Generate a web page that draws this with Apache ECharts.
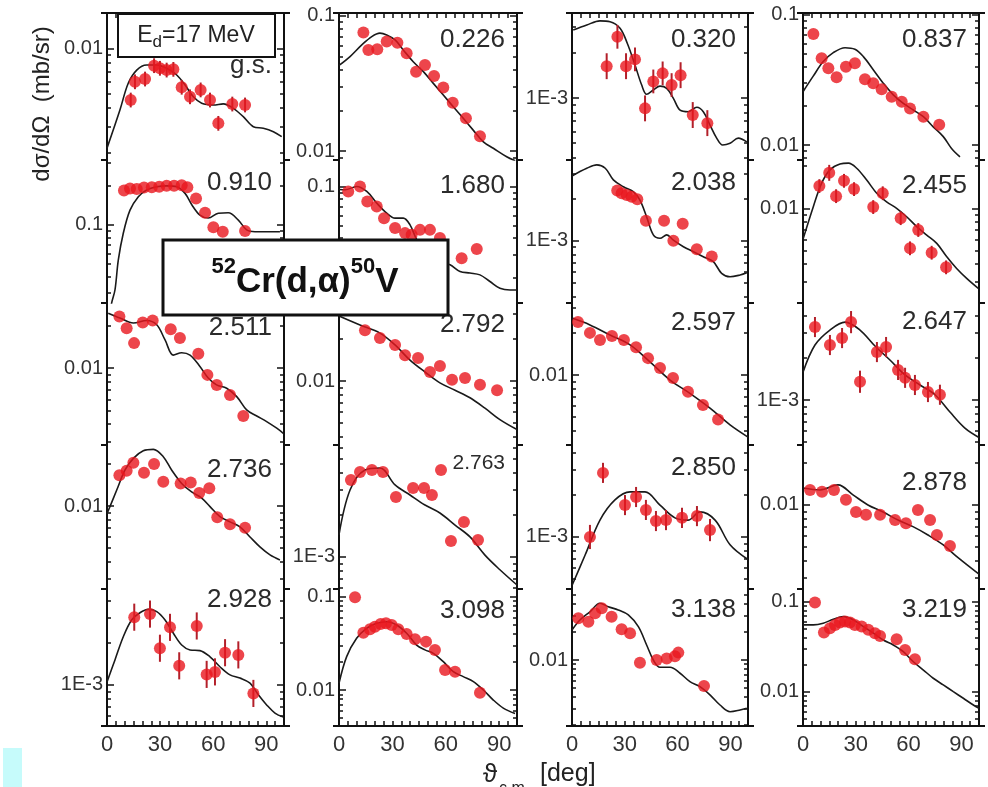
<!DOCTYPE html>
<html><head><meta charset="utf-8">
<script src="https://cdn.jsdelivr.net/npm/echarts@6/dist/echarts.min.js"></script>
<style>html,body{margin:0;padding:0;background:#fff}#c{width:988px;height:787px}</style>
</head><body><div id="c"></div>
<script>
// ---- excitation energies (panel labels) ----
const states = ['g.s.','0.226','0.320','0.837','0.910','1.680','2.038','2.455','2.511','2.792','2.597','2.647','2.736','2.763','2.850','2.878','2.928','3.098','3.138','3.219'];
const xTickLabels = [0, 30, 60, 90];

// ---- data: [angle deg, dsigma/dOmega mb/sr] ; err = relative error ; th = theory curve ----
const exp_gs = [[13.4,0.00452],[15.8,0.00598],[21.5,0.00624],[26.6,0.00766],[29.9,0.00736],[33.7,0.00716],[37.5,0.00724],[42.2,0.0055],[46.9,0.00475],[52.9,0.00528],[58.2,0.00452],[62.9,0.00316],[70.8,0.00425],[78,0.00419]];
const err_gs = [0.12,0.12,0.12,0.12,0.12,0.12,0.12,0.12,0.12,0.12,0.12,0.12,0.12,0.12];
const th_gs = [[0,0.00216],[7.3,0.00388],[12,0.00585],[16.8,0.00716],[22.4,0.00774],[28.1,0.00774],[33.7,0.00736],[39.4,0.00664],[44.1,0.00569],[48.8,0.00475],[53.5,0.0043],[60.1,0.00419],[65.7,0.00426],[71.4,0.00398],[77,0.0035],[82.7,0.003],[88.3,0.00293],[94,0.00278],[98.7,0.00258]];

const exp_0226 = [[13.7,0.0752],[16.5,0.056],[21.5,0.0566],[26.8,0.0646],[32.8,0.0633],[38,0.053],[43.3,0.0387],[48.3,0.0434],[53.4,0.036],[58.6,0.0296],[63.9,0.0228],[71.3,0.0175],[79.2,0.0129]];
const th_0226 = [[0,0.043],[6.2,0.05],[12.8,0.061],[18.4,0.0703],[23,0.0745],[26.8,0.0723],[31.5,0.0664],[36.1,0.056],[41.7,0.0458],[47.4,0.0387],[53,0.0317],[58.6,0.026],[64.2,0.0213],[69.8,0.0175],[75.4,0.0143],[81.1,0.0117],[86.7,0.0105],[94.2,0.0091],[99,0.0085]];

const exp_0320 = [[19.7,0.00163],[25.8,0.00256],[30.7,0.00163],[35.8,0.00181],[41.5,0.000853],[46.2,0.00129],[51.5,0.00146],[56.6,0.00122],[61.7,0.00142],[68.6,0.00077],[76.9,0.00068]];
const err_0320 = [0.22,0.2,0.22,0.2,0.22,0.2,0.2,0.2,0.22,0.22,0.22];
const th_0320 = [[0.7,0.00284],[8.4,0.00307],[15.9,0.00327],[21.6,0.00323],[27.3,0.00292],[31.4,0.00232],[35.8,0.00166],[39.6,0.00122],[42.4,0.00106],[46.2,0.00113],[50,0.0012],[53.8,0.00116],[57.6,0.000995],[61.4,0.00083],[66.1,0.00081],[70.9,0.000867],[74.6,0.00081],[78.4,0.00066],[82.2,0.00054],[85.6,0.000486],[89.8,0.000499],[94.5,0.00054],[99.3,0.00051]];

const exp_0837 = [[5.9,0.0714],[10.6,0.0465],[14.4,0.0389],[19.1,0.0332],[24.4,0.04],[29.5,0.0425],[35.2,0.032],[39.9,0.0298],[44.7,0.0268],[50.4,0.0235],[56.1,0.0215],[60.8,0.0191],[68.4,0.0165],[77.4,0.0143]];
const th_0837 = [[0,0.0257],[5.9,0.034],[11.5,0.0438],[17.2,0.0513],[23.9,0.056],[29.5,0.0544],[34.3,0.0478],[40,0.0378],[45.6,0.0299],[51.3,0.0243],[57,0.0209],[62.7,0.0186],[68.4,0.0165],[74,0.0138],[79.7,0.0116],[84.4,0.0094],[89.2,0.0081]];

const exp_0910 = [[9.6,0.184],[13,0.191],[16.8,0.189],[20.9,0.194],[25.3,0.195],[29.5,0.197],[33.7,0.2],[37.9,0.2],[42.2,0.202],[45.4,0.195],[50.3,0.16],[55.4,0.124],[60.1,0.096],[65.4,0.0887],[78,0.0899]];
const th_0910 = [[0,0.015],[2.6,0.025],[4.5,0.0316],[6.4,0.0538],[9.2,0.0863],[13,0.13],[17.7,0.165],[22.4,0.186],[28.1,0.197],[33.7,0.2],[39.4,0.197],[44.1,0.175],[47.9,0.143],[52.5,0.119],[57.2,0.113],[62.9,0.123],[68.5,0.124],[74.2,0.109],[78.9,0.0916],[83.6,0.0887],[97.7,0.0887]];

const exp_1680 = [[5.2,0.0916],[11.8,0.1],[15.9,0.0767],[21.2,0.0702],[25.3,0.0571],[31.5,0.0479],[37.1,0.0438],[40.8,0.0425],[45.5,0.0464],[51.1,0.0464],[56.7,0.0401],[68.9,0.0281],[77.4,0.033]];
const th_1680 = [[0,0.095],[3.4,0.0944],[9.9,0.1],[15.6,0.0916],[21.2,0.0745],[26.8,0.0624],[31.5,0.0571],[36.1,0.0571],[39.9,0.0507],[43.7,0.0389],[48.3,0.032],[56.7,0.0263],[62.4,0.025],[68,0.0222],[73.6,0.0216],[79.2,0.0209],[84.8,0.0186],[90.4,0.0165],[96.1,0.016],[100,0.016]];

const exp_2038 = [[25.7,0.00228],[28.2,0.00218],[31.1,0.00212],[33.9,0.00206],[37.1,0.00198],[42,0.00139],[52.3,0.00139],[57.6,0.001],[62.9,0.00132],[70.9,0.00087],[79.4,0.00077]];
const th_2038 = [[0,0.0029],[8.4,0.00329],[14.1,0.00348],[18.9,0.00329],[23.5,0.00272],[29.2,0.00243],[34.8,0.00224],[38.6,0.00195],[42.4,0.00148],[46.2,0.0011],[50,0.00104],[53.8,0.0011],[57.6,0.00101],[63.3,0.000906],[69,0.000834],[74.6,0.000769],[80.3,0.000708],[85,0.000585],[89.8,0.000553],[95.5,0.000569],[99.3,0.00059]];

const exp_2455 = [[9.3,0.0144],[14.9,0.0179],[18.8,0.0122],[23.3,0.0157],[29,0.0137],[39.9,0.0102],[45.3,0.0128],[55.5,0.0085],[65.5,0.007],[60.8,0.00518],[73.1,0.00482],[81.3,0.00379]];
const err_2455 = [0.12,0.14,0.12,0.12,0.12,0.12,0.12,0.12,0.12,0.12,0.12,0.12];
const th_2455 = [[0,0.006],[5.9,0.0103],[10.6,0.0151],[15.3,0.0188],[21,0.0207],[25.8,0.021],[30.5,0.0193],[36.2,0.0159],[41.9,0.0128],[47.5,0.0111],[53.2,0.01],[58.9,0.0087],[64.6,0.0074],[70.3,0.00644],[76,0.00562],[81.7,0.00451],[87.3,0.00372],[93,0.00316],[99.6,0.00268]];

const exp_2511 = [[7,0.0234],[11.1,0.0193],[15.3,0.0151],[20.2,0.0212],[25.8,0.0219],[36,0.019],[41.2,0.0164],[51.6,0.0127],[56.7,0.00896],[62,0.0076],[69.5,0.00644],[77,0.00456]];
const th_2511 = [[0.7,0.0247],[7.3,0.0228],[14.9,0.021],[22.4,0.0219],[28.1,0.0204],[32.8,0.0159],[37.5,0.0124],[42.2,0.0129],[46.9,0.0124],[52.5,0.0103],[57.2,0.0085],[61.9,0.0076],[67.6,0.0072],[73.3,0.00627],[78.9,0.00504],[84.6,0.00456],[90.2,0.00416],[95.9,0.00373],[99.6,0.00343]];

const exp_2792 = [[14.6,0.0231],[23,0.0203],[31.5,0.0181],[37.1,0.0153],[44.4,0.0146],[51.1,0.0116],[56.7,0.0128],[63.5,0.0102],[70.8,0.0105],[79.2,0.0094],[88.8,0.0086]];
const th_2792 = [[0,0.0291],[11.8,0.0251],[23,0.022],[31.5,0.0181],[39.9,0.0141],[48.3,0.0116],[56.7,0.0097],[65.2,0.0086],[73.6,0.0076],[82,0.0064],[90.4,0.0053],[100,0.0045]];

const exp_2597 = [[3.4,0.0239],[10.2,0.02],[15.9,0.0178],[22.7,0.019],[29.5,0.0178],[36.4,0.0158],[43.2,0.0132],[50,0.0112],[57.4,0.0095],[65.9,0.0076],[74.4,0.0061],[83,0.0048]];
const th_2597 = [[0,0.0255],[10.2,0.0228],[21.6,0.0193],[33,0.0164],[44.3,0.0124],[55.7,0.0092],[67,0.0074],[78.4,0.0058],[89.8,0.0044],[100,0.0036]];

const exp_2647 = [[6.8,0.00332],[15.3,0.00247],[22.2,0.00277],[27.3,0.0036],[32.4,0.00135],[42,0.0022],[47.2,0.00239],[54,0.00164],[58,0.00144],[63.6,0.00128],[71,0.00114],[77.8,0.00109]];
const err_2647 = [0.18,0.18,0.18,0.2,0.2,0.18,0.18,0.18,0.18,0.18,0.18,0.18];
const th_2647 = [[0,0.00158],[6.8,0.00247],[15.3,0.00316],[23.9,0.0036],[32.4,0.00316],[40.9,0.00243],[49.4,0.00193],[58,0.00151],[66.5,0.00128],[75,0.00109],[83.5,0.00082],[92,0.00063],[100,0.00054]];

const exp_2736 = [[7,0.0166],[11.1,0.0179],[14.9,0.0204],[20.9,0.0173],[26.6,0.02],[31.8,0.0149],[41.6,0.0145],[47.3,0.0147],[52.1,0.0124],[57.8,0.0134],[62.3,0.0083],[69.5,0.0074],[78,0.007]];
const th_2736 = [[0,0.0088],[5.5,0.013],[10.2,0.0181],[14.9,0.0219],[20.5,0.0248],[26.2,0.0254],[31.8,0.0225],[36.5,0.0181],[42.2,0.0145],[47.8,0.0126],[53.5,0.0114],[58.2,0.0099],[63.8,0.0084],[69.5,0.0077],[75.1,0.0071],[80.8,0.006],[86.4,0.0051],[92.1,0.00447],[97.7,0.00411]];

const exp_2763 = [[6.7,0.00355],[11.8,0.00405],[18.5,0.00418],[24.7,0.00405],[32,0.00268],[41.6,0.00311],[47.8,0.00311],[52.2,0.00277],[57.3,0.00418],[62.9,0.0013],[70.2,0.00178],[78.1,0.00132]];
const th_2763 = [[0,0.00144],[6.2,0.00301],[14.6,0.00418],[23,0.00432],[31.5,0.00327],[39.9,0.00277],[48.3,0.00235],[56.7,0.00206],[65.2,0.00169],[73.6,0.00139],[82,0.00103],[90.4,0.00081],[100,0.00063]];

const exp_2850 = [[10.2,0.001],[17.6,0.00287],[30.1,0.00169],[36.4,0.00193],[42,0.00156],[47.7,0.0013],[53.4,0.00132],[62.5,0.00137],[71,0.00141],[78.4,0.00112]];
const err_2850 = [0.22,0.18,0.18,0.18,0.18,0.18,0.18,0.18,0.18,0.2];
const th_2850 = [[0,0.00045],[7.4,0.00074],[15.9,0.00132],[24.4,0.00184],[33,0.0021],[41.5,0.0021],[50,0.00169],[58.5,0.00137],[65.9,0.00132],[72.7,0.00151],[81.3,0.00132],[89.8,0.00088],[100,0.00069]];

const exp_2878 = [[4,0.0128],[10.8,0.0124],[17.6,0.0128],[24.4,0.0109],[30.1,0.0089],[35.8,0.0085],[43.8,0.0085],[52.3,0.0078],[58.5,0.0074],[65.3,0.0092],[72.2,0.0078],[76.1,0.0061],[83.5,0.0051]];
const th_2878 = [[0,0.0132],[9.7,0.0128],[19.9,0.0139],[28.4,0.0118],[36.9,0.01],[45.5,0.0089],[54,0.0078],[62.5,0.007],[71,0.0061],[79.5,0.0052],[88.1,0.0042],[100,0.0032]];

const exp_2928 = [[15.4,0.00305],[24.3,0.00321],[29.9,0.00183],[35.6,0.00258],[40.8,0.00137],[50.7,0.00264],[56.3,0.00119],[61,0.00124],[66.7,0.0017],[74.2,0.00164],[82.7,0.00087]];
const err_2928 = [0.25,0.25,0.25,0.25,0.25,0.25,0.25,0.25,0.25,0.25,0.25];
const th_2928 = [[0,0.00105],[4.5,0.00151],[9.2,0.00221],[13.9,0.00291],[18.6,0.00328],[23.3,0.00347],[28.1,0.00334],[32.8,0.00291],[37.5,0.00234],[42.2,0.00193],[46.9,0.00178],[52.5,0.00176],[58.2,0.00159],[63.8,0.00135],[69.5,0.00118],[75.1,0.00112],[80.8,0.00103],[85.5,0.00085],[90.2,0.00072],[94.9,0.00063],[99.6,0.00059]];

const exp_3098 = [[9,0.0986],[13.7,0.0411],[17.4,0.0448],[20.2,0.0477],[23.4,0.0509],[26.4,0.0518],[29.6,0.0498],[33.3,0.0448],[38,0.0398],[42.7,0.0349],[48.9,0.033],[53.9,0.0269],[59.6,0.0164],[65.2,0.0157],[79.2,0.00936]];
const th_3098 = [[0,0.0118],[4.3,0.0228],[9.9,0.0358],[15.5,0.0458],[21.2,0.0519],[26.8,0.054],[32.4,0.0498],[38,0.0406],[43.6,0.0303],[48.3,0.0269],[53,0.0247],[58.6,0.0201],[64.2,0.0157],[69.8,0.0139],[75.5,0.0123],[81.1,0.01],[86.7,0.0078],[92.3,0.0064],[98.9,0.0056]];

const exp_3138 = [[3.6,0.0281],[9.3,0.0258],[13.1,0.0318],[16.9,0.036],[22.5,0.0292],[28.2,0.0214],[33,0.0194],[38.6,0.00935],[48.1,0.01],[53.8,0.0104],[58.5,0.011],[60.4,0.012],[75,0.00525]];
const th_3138 = [[0,0.021],[4.5,0.0269],[10.2,0.033],[15.9,0.0407],[20.6,0.0374],[26.3,0.0345],[32,0.0305],[37.7,0.0228],[42.4,0.0145],[46.2,0.01],[50,0.00835],[55.7,0.00835],[61.4,0.0072],[67,0.00585],[72.7,0.00516],[78.4,0.00421],[84.1,0.00328],[89.8,0.00278],[95.5,0.0029],[99.3,0.00303]];

const exp_3219 = [[6.8,0.0975],[11.9,0.0453],[15.3,0.0506],[18.2,0.0551],[21,0.0585],[23.9,0.06],[26.7,0.0585],[29.5,0.0551],[33.3,0.0528],[37.1,0.0486],[40.9,0.0446],[43.8,0.0416],[53.2,0.0382],[58,0.029],[63.6,0.0229]];
const th_3219 = [[0,0.0551],[5.9,0.0551],[11.5,0.0575],[17.2,0.0637],[22.9,0.0681],[28.6,0.0627],[34.3,0.0528],[40,0.0446],[45.6,0.0375],[51.3,0.033],[57,0.0278],[62.7,0.0215],[68.4,0.0174],[74,0.0141],[79.7,0.0119],[85.4,0.01],[91.1,0.00845],[96.8,0.00711],[100,0.00655]];

// ---- y-axis ranges and labelled decades per panel ----
const yRanges = [[0.0018,0.0172],[0.0086,0.105],[0.000386,0.00369],[0.00767,0.1035],
  [0.0251,0.316],[0.0127,0.16],[0.000359,0.00377],[0.00211,0.0221],
  [0.00283,0.0292],[0.00349,0.0361],[0.00316,0.0327],[0.000477,0.00493],
  [0.00255,0.0273],[0.00059,0.00631],[0.000425,0.00454],[0.00251,0.0268],
  [0.000509,0.00485],[0.00411,0.121],[0.00195,0.058],[0.00416,0.138]];
const yLabelValues = [[0.01],[0.1,0.01],[0.001],[0.1,0.01],[0.1],[0.1],[0.001],[0.01],[0.01],[0.01],[0.01],[0.001],[0.01],[0.001],[0.001],[0.01],[0.001],[0.1,0.01],[0.01],[0.1,0.01]];

const expSets = [exp_gs,exp_0226,exp_0320,exp_0837,exp_0910,exp_1680,exp_2038,exp_2455,exp_2511,exp_2792,exp_2597,exp_2647,exp_2736,exp_2763,exp_2850,exp_2878,exp_2928,exp_3098,exp_3138,exp_3219];
const errSets = [err_gs,null,err_0320,null,null,null,null,err_2455,null,null,null,err_2647,null,null,err_2850,null,err_2928,null,null,null];
const thSets = [th_gs,th_0226,th_0320,th_0837,th_0910,th_1680,th_2038,th_2455,th_2511,th_2792,th_2597,th_2647,th_2736,th_2763,th_2850,th_2878,th_2928,th_3098,th_3138,th_3219];

// ---- layout ----
const colLeft = [107,339,572,803], colWidth = [177,178,176,176];
const rowTop = [13,160,303,445,589], rowBottom = [160,303,445,589,726];
const stateLabelDy = [[53,27,27,27],[23,26,23,26],[25,22,20,19],[25,18,23,38],[11,22,21,21]];
const stateLabelSize = [[26,26,26,26],[26,26,26,26],[26,26,26,26],[26,21,26,26],[26,26,26,26]];
const FONT = 'Liberation Sans, Arial, sans-serif';
const INK = '#111';

function fmt(v){ const e = Math.round(Math.log10(v)); return e===-1?'0.1':e===-2?'0.01':e===-3?'1E-3':String(v); }

const grid=[], xAxis=[], yAxis=[], series=[], graphic=[];
expSets.forEach((exp,i)=>{
  const r=Math.floor(i/4), c=i%4;
  grid.push({left:colLeft[c], top:rowTop[r], width:colWidth[c], height:rowBottom[r]-rowTop[r]});
  const isTop=r===0, isBot=r===4;
  xAxis.push({gridIndex:i, type:'value', min:0, max:100, interval:5, position:isTop?'top':'bottom', show:isTop||isBot,
    axisLine:{show:true,onZero:false,lineStyle:{color:INK,width:2}},
    axisTick:{show:true,inside:true,length:5,lineStyle:{color:INK,width:1.5}},
    axisLabel:{show:isBot, customValues:xTickLabels, color:'#333', fontSize:22, margin:8, fontFamily:FONT},
    splitLine:{show:false}});
  const mn=yRanges[i][0], mx=yRanges[i][1];
  const majors=[], minors=[];
  for(let e=-5;e<=1;e++){ for(let k=1;k<10;k++){ const v=+(k*Math.pow(10,e)).toPrecision(3); if(v>=mn&&v<=mx){ (k===1?majors:minors).push(v); } } }
  const base = {gridIndex:i, type:'log', logBase:10, min:mn, max:mx, splitLine:{show:false}, minorTick:{show:false}};
  const tickLine = {color:INK,width:1.5};
  const yi = yAxis.length;
  yAxis.push(Object.assign({}, base, {position:'left', axisLine:{show:true,onZero:false,lineStyle:{color:INK,width:2}},
    axisTick:{show:true,inside:true,length:7,customValues:majors,lineStyle:tickLine},
    axisLabel:{show:true,customValues:yLabelValues[i],formatter:fmt,color:'#333',fontSize:20,margin:4,fontFamily:FONT}}));
  yAxis.push(Object.assign({}, base, {position:'left', axisLine:{show:false,onZero:false},
    axisTick:{show:true,inside:true,length:4,customValues:minors,lineStyle:tickLine}, axisLabel:{show:false}}));
  yAxis.push(Object.assign({}, base, {position:'right', axisLine:{show:true,onZero:false,lineStyle:{color:INK,width:2}},
    axisTick:{show:true,inside:true,length:7,customValues:majors,lineStyle:tickLine}, axisLabel:{show:false}}));
  yAxis.push(Object.assign({}, base, {position:'right', axisLine:{show:false,onZero:false},
    axisTick:{show:true,inside:true,length:4,customValues:minors,lineStyle:tickLine}, axisLabel:{show:false}}));
  const bnd = [mn*1.0005, mx*0.9995];
  yAxis.push(Object.assign({}, base, {position:'left', axisLine:{show:false,onZero:false},
    axisTick:{show:true,inside:false,length:6,customValues:bnd,lineStyle:{color:INK,width:2}}, axisLabel:{show:false}}));
  yAxis.push(Object.assign({}, base, {position:'right', axisLine:{show:false,onZero:false},
    axisTick:{show:true,inside:false,length:6,customValues:bnd,lineStyle:{color:INK,width:2}}, axisLabel:{show:false}}));

  series.push({type:'line', xAxisIndex:i, yAxisIndex:yi, data:thSets[i], smooth:0.35, symbol:'none', silent:true,
    lineStyle:{color:'#1a1a1a',width:1.6}, z:3});
  const err = errSets[i];
  if (err) {
    series.push({type:'custom', xAxisIndex:i, yAxisIndex:yi, z:4, silent:true,
      data: exp.map((d,j)=>[d[0], d[1]/(1+err[j]), d[1]*(1+err[j])]),
      renderItem:(params,api)=>{ const a=api.coord([api.value(0),api.value(1)]), b=api.coord([api.value(0),api.value(2)]);
        return {type:'line', shape:{x1:a[0],y1:a[1],x2:b[0],y2:b[1]}, style:{stroke:'#b3202a',lineWidth:2}}; }});
  }
  series.push({type:'scatter', xAxisIndex:i, yAxisIndex:yi, data:exp, symbolSize:12, silent:true,
    itemStyle:{color:'#e8161e'}, z:5});

  graphic.push({type:'text', x:colLeft[c]+colWidth[c]-12, y:rowTop[r]+stateLabelDy[r][c], z:50,
    style:{text:states[i], font:stateLabelSize[r][c]+'px '+FONT, fill:'#2b2b2b', textAlign:'right', textVerticalAlign:'middle'}});
});

// E_d box
graphic.push({type:'rect', shape:{x:118,y:14,width:157,height:43}, style:{fill:'#fff',stroke:INK,lineWidth:2}, z:60});
graphic.push({type:'text', x:196, y:36, z:61, style:{text:'{n|E}{s|d}{n|=17 MeV}', textAlign:'center', textVerticalAlign:'middle',
  rich:{n:{fontSize:23,fontFamily:FONT,fill:'#222',lineHeight:30,verticalAlign:'middle'}, s:{fontSize:17,fontFamily:FONT,fill:'#222',lineHeight:16,verticalAlign:'bottom'}}}});
// reaction box
graphic.push({type:'rect', shape:{x:163,y:240,width:285,height:75}, style:{fill:'#fff',stroke:INK,lineWidth:3}, z:70});
graphic.push({type:'text', x:305, y:278, z:71, style:{text:'{p|52}{b|Cr(d,α)}{p|50}{b|V}', textAlign:'center', textVerticalAlign:'middle',
  rich:{b:{fontSize:35,fontWeight:'bold',fontFamily:FONT,fill:'#111',lineHeight:44,verticalAlign:'bottom'}, p:{fontSize:22,fontWeight:'bold',fontFamily:FONT,fill:'#111',lineHeight:22,verticalAlign:'top'}}}});
// y title
graphic.push({type:'text', x:42, y:104, rotation:Math.PI/2, z:50, style:{text:'dσ/dΩ  (mb/sr)', font:'24px '+FONT, fill:'#222', textAlign:'center', textVerticalAlign:'middle'}});
// x title
graphic.push({type:'text', x:490, y:775, z:50, style:{text:'ϑ', font:'26px '+FONT, fill:'#222', textAlign:'center', textVerticalAlign:'middle'}});
graphic.push({type:'text', x:499, y:781, z:50, style:{text:'c.m.', font:'16px '+FONT, fill:'#222', textAlign:'left', textVerticalAlign:'top'}});
graphic.push({type:'text', x:540, y:774, z:50, style:{text:'[deg]', font:'25px '+FONT, fill:'#222', textAlign:'left', textVerticalAlign:'middle'}});
// cyan marker
graphic.push({type:'rect', shape:{x:3,y:748,width:19,height:39}, style:{fill:'#c6fbfb'}, z:50});

const chart = echarts.init(document.getElementById('c'), null, {renderer:'canvas'});
chart.setOption({animation:false, backgroundColor:'#fff', textStyle:{fontFamily:FONT}, grid, xAxis, yAxis, series, graphic});
</script></body></html>
